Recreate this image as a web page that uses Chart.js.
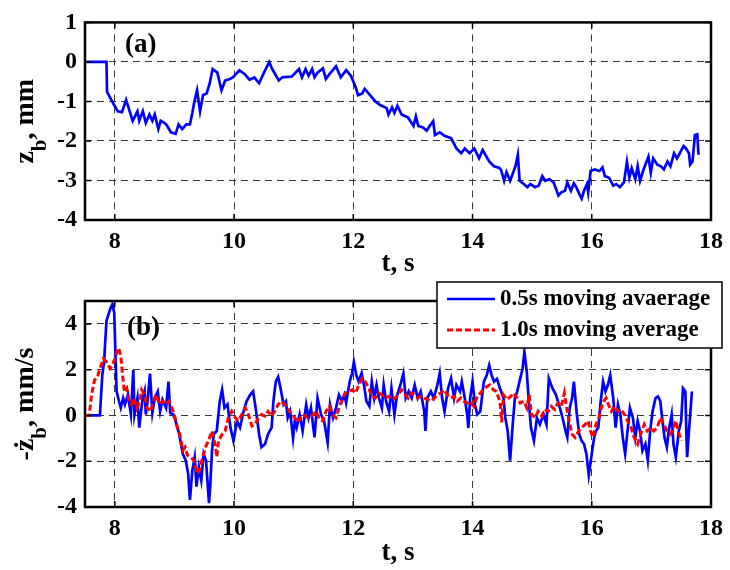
<!DOCTYPE html>
<html>
<head>
<meta charset="utf-8">
<title>z_b and -dz_b/dt</title>
<script src="https://cdn.jsdelivr.net/npm/chart.js"></script>
<style>
  body { margin: 0; background: #fff; }
  #wrap { position: relative; width: 730px; height: 570px; }
  #boxTop { position: absolute; left: 0; top: 0; width: 730px; height: 285px; }
  #boxBot { position: absolute; left: 0; top: 265px; width: 730px; height: 305px; }
</style>
</head>
<body>
<div id="wrap">
  <div id="boxTop"><canvas id="topChart" width="730" height="285"></canvas></div>
  <div id="boxBot"><canvas id="botChart" width="730" height="305"></canvas></div>
</div>
<script>
// tick labels
const xTicks = [8, 10, 12, 14, 16, 18];
const topYTicks = [-4, -3, -2, -1, 0, 1];
const botYTicks = [-4, -2, 0, 2, 4];

// (a) z_b, mm
const tTop = [7.50, 7.86, 7.87, 7.97, 8.05, 8.12, 8.19, 8.25, 8.30, 8.38, 8.41, 8.47, 8.52, 8.58, 8.63, 8.67, 8.73, 8.77, 8.83, 8.87,
  8.94, 9.02, 9.07, 9.13, 9.20, 9.26, 9.30, 9.33, 9.38, 9.43, 9.48, 9.54, 9.59, 9.64, 9.72, 9.79, 9.85, 9.93, 9.98, 10.09,
  10.18, 10.26, 10.34, 10.42, 10.49, 10.59, 10.64, 10.75, 10.81, 10.97, 11.09, 11.14, 11.20, 11.25, 11.31, 11.35, 11.40, 11.49, 11.54, 11.60,
  11.71, 11.79, 11.88, 11.96, 12.04, 12.08, 12.15, 12.19, 12.26, 12.37, 12.45, 12.56, 12.59, 12.65, 12.69, 12.74, 12.81, 12.92, 13.01, 13.05,
  13.09, 13.17, 13.23, 13.28, 13.34, 13.37, 13.45, 13.53, 13.64, 13.73, 13.81, 13.87, 13.95, 14.03, 14.11, 14.17, 14.28, 14.36, 14.45, 14.48,
  14.53, 14.57, 14.63, 14.67, 14.72, 14.76, 14.79, 14.86, 14.92, 14.97, 15.05, 15.11, 15.17, 15.22, 15.29, 15.36, 15.40, 15.44, 15.49, 15.55,
  15.59, 15.65, 15.70, 15.74, 15.79, 15.83, 15.87, 15.92, 15.94, 15.98, 16.05, 16.13, 16.18, 16.22, 16.29, 16.36, 16.41, 16.47, 16.54, 16.59,
  16.63, 16.67, 16.73, 16.77, 16.81, 16.86, 16.91, 16.95, 16.99, 17.03, 17.10, 17.16, 17.21, 17.27, 17.32, 17.38, 17.43, 17.49, 17.54, 17.58,
  17.63, 17.65, 17.69, 17.73, 17.77, 17.79];
const zTop = [0, 0, -0.76, -1.04, -1.25, -1.27, -0.96, -1.25, -1.49, -1.25, -1.49, -1.25, -1.54, -1.33, -1.49, -1.33, -1.70, -1.49, -1.54, -1.60,
  -1.78, -1.82, -1.58, -1.70, -1.58, -1.58, -1.29, -1.04, -0.72, -1.25, -0.84, -0.80, -0.55, -0.18, -0.27, -0.72, -0.47, -0.43, -0.39, -0.21,
  -0.31, -0.45, -0.39, -0.54, -0.31, 0.00, -0.18, -0.47, -0.39, -0.37, -0.18, -0.39, -0.18, -0.35, -0.18, -0.39, -0.27, -0.16, -0.43, -0.31,
  -0.11, -0.39, -0.21, -0.35, -0.64, -0.84, -0.80, -0.68, -0.80, -1.00, -1.09, -1.17, -1.33, -1.15, -1.29, -1.11, -1.33, -1.41, -1.62, -1.38,
  -1.62, -1.66, -1.74, -1.62, -1.50, -1.85, -1.78, -1.87, -1.93, -2.19, -2.31, -2.19, -2.31, -2.19, -2.44, -2.23, -2.52, -2.64, -2.68, -2.74,
  -3.01, -2.79, -3.01, -2.85, -2.64, -2.35, -3.01, -3.09, -3.17, -3.09, -3.17, -3.13, -2.89, -3.01, -2.97, -3.05, -3.21, -3.38, -3.30, -3.26,
  -3.05, -3.26, -3.07, -3.17, -3.34, -3.46, -3.26, -3.09, -3.30, -2.76, -2.72, -2.76, -2.67, -2.89, -2.93, -3.13, -3.09, -3.17, -3.05, -2.53,
  -2.93, -2.69, -2.97, -2.64, -3.01, -2.76, -2.56, -2.40, -2.80, -2.44, -2.60, -2.64, -2.72, -2.52, -2.64, -2.31, -2.44, -2.27, -2.13, -2.19,
  -2.31, -2.60, -2.52, -1.85, -1.83, -2.35];

// (b) 0.5s moving avaerage
const tFast = [7.50, 7.75, 7.79, 7.82, 7.86, 7.92, 7.96, 7.99, 8.01, 8.03, 8.07, 8.10, 8.14, 8.17, 8.22, 8.27, 8.31, 8.33, 8.38, 8.41,
  8.46, 8.50, 8.52, 8.55, 8.59, 8.63, 8.67, 8.72, 8.76, 8.80, 8.86, 8.90, 8.93, 8.98, 9.02, 9.08, 9.14, 9.19, 9.23, 9.26,
  9.30, 9.34, 9.37, 9.41, 9.45, 9.49, 9.53, 9.58, 9.60, 9.63, 9.66, 9.71, 9.76, 9.80, 9.84, 9.89, 9.94, 9.99, 10.05, 10.10,
  10.16, 10.21, 10.27, 10.32, 10.37, 10.42, 10.46, 10.52, 10.57, 10.63, 10.66, 10.70, 10.74, 10.78, 10.83, 10.87, 10.90, 10.94, 10.99, 11.02,
  11.05, 11.10, 11.15, 11.21, 11.25, 11.29, 11.35, 11.40, 11.46, 11.51, 11.57, 11.61, 11.66, 11.71, 11.76, 11.81, 11.85, 11.88, 11.94, 11.98,
  12.01, 12.05, 12.09, 12.14, 12.18, 12.22, 12.27, 12.31, 12.35, 12.39, 12.43, 12.48, 12.51, 12.55, 12.60, 12.64, 12.69, 12.73, 12.79, 12.84,
  12.88, 12.93, 12.98, 13.03, 13.08, 13.13, 13.19, 13.21, 13.24, 13.30, 13.35, 13.41, 13.45, 13.49, 13.53, 13.59, 13.64, 13.69, 13.73, 13.79,
  13.82, 13.87, 13.91, 13.93, 13.96, 14.00, 14.04, 14.08, 14.13, 14.19, 14.24, 14.28, 14.32, 14.36, 14.41, 14.46, 14.52, 14.55, 14.59, 14.63,
  14.67, 14.71, 14.75, 14.80, 14.84, 14.87, 14.91, 14.94, 14.98, 15.03, 15.08, 15.13, 15.19, 15.24, 15.28, 15.34, 15.40, 15.45, 15.51, 15.56,
  15.59, 15.63, 15.67, 15.70, 15.75, 15.79, 15.83, 15.87, 15.91, 15.95, 16.00, 16.04, 16.07, 16.11, 16.15, 16.19, 16.23, 16.27, 16.31, 16.36,
  16.40, 16.44, 16.48, 16.52, 16.56, 16.60, 16.64, 16.69, 16.73, 16.77, 16.81, 16.85, 16.90, 16.94, 16.98, 17.02, 17.07, 17.11, 17.15, 17.18,
  17.22, 17.26, 17.29, 17.34, 17.37, 17.41, 17.46, 17.50, 17.53, 17.57, 17.59, 17.60, 17.63, 17.66, 17.68];
const vFast = [0, 0, 1.76, 2.34, 4.13, 4.63, 4.87, 4.49, 2.77, 1.05, 0.62, 0.33, 0.76, 0.48, 0.90, 0.04, 1.98, 0.04, 0.76, -0.53,
  0.62, 1.05, 0.04, 0.62, 1.83, 0.11, 0.76, 1.05, 0.18, 0.69, 0.33, 1.48, 0.11, 0.04, -0.25, -0.82, -1.68, -1.97, -2.54, -3.69,
  -2.40, -1.82, -3.11, -2.25, -2.83, -1.68, -1.97, -3.83, -3.11, -1.54, -0.82, -0.68, 0.62, 1.12, 0.33, 0.48, -0.53, -1.11, -0.24, -0.53,
  0.18, 0.62, 0.90, 1.05, 0.18, -0.82, -1.39, -1.25, -0.82, -0.53, 0.62, 1.48, 1.69, 1.19, 0.48, 0.62, -0.10, 0.18, -1.00, -0.24,
  -0.53, 0.04, -0.68, 0.47, -0.10, 0.33, -0.96, 0.76, 0.04, -0.24, -1.18, 0.47, -0.10, 0.33, 0.90, 0.62, 0.90, 0.54, 1.48, 1.84,
  2.34, 1.76, 1.48, 1.84, 1.33, 0.62, 0.40, 1.48, 0.76, 1.33, 0.76, 0.33, 1.33, 0.62, 0.18, 1.19, 0.04, 0.83, 1.33, 1.84,
  0.76, 1.05, 0.76, 1.33, 0.76, 1.05, 0.18, -0.68, 0.76, 1.05, 0.76, 1.33, 1.84, 0.76, 0.18, 1.19, 1.62, 0.76, 1.33, 1.05,
  1.48, 0.76, 0.04, -0.55, 0.76, 1.48, 0.47, 0.04, 0.18, 1.48, 1.76, 2.19, 1.76, 1.48, 1.60, 1.19, 0.76, -0.10, -0.68, -1.97,
  -0.53, 0.76, 1.05, 1.62, 2.05, 2.77, 1.91, 0.76, -0.53, -1.11, -0.10, -0.39, 0.04, -0.39, 1.62, 1.19, 0.90, 0.47, -0.10, -0.68,
  -0.96, 0.33, 0.76, 1.48, 0.04, -0.82, -1.11, -1.25, -1.68, -2.60, -1.68, -0.96, -0.68, -0.53, 0.62, 1.48, 1.05, 1.33, 1.76, 0.76,
  -0.53, 0.47, 0.04, -0.96, -1.68, -0.68, 0.33, -0.10, -0.96, -0.24, -0.68, -1.54, -1.25, -1.97, -0.68, 0.18, 0.76, 0.83, 0.62, -0.10,
  -0.96, -1.39, -0.68, 0.04, -1.25, -1.82, -0.68, -0.24, 1.19, 1.05, -1.11, -1.82, -0.68, 0.33, 1.05];

// (b) 1.0s moving average
const tSlow = [7.50, 7.57, 7.61, 7.66, 7.71, 7.75, 7.81, 7.86, 7.92, 7.96, 8.00, 8.06, 8.10, 8.13, 8.16, 8.20, 8.24, 8.28, 8.32, 8.37,
  8.42, 8.45, 8.50, 8.54, 8.60, 8.65, 8.69, 8.75, 8.80, 8.86, 8.91, 8.97, 9.01, 9.05, 9.09, 9.14, 9.18, 9.22, 9.27, 9.33,
  9.38, 9.42, 9.46, 9.52, 9.57, 9.63, 9.69, 9.71, 9.74, 9.80, 9.85, 9.91, 9.96, 10.02, 10.07, 10.13, 10.19, 10.24, 10.30, 10.35,
  10.41, 10.46, 10.52, 10.57, 10.63, 10.68, 10.74, 10.79, 10.85, 10.90, 10.96, 11.02, 11.07, 11.15, 11.24, 11.32, 11.38, 11.43, 11.49, 11.54,
  11.60, 11.65, 11.71, 11.76, 11.82, 11.87, 11.93, 11.98, 12.04, 12.09, 12.15, 12.20, 12.26, 12.31, 12.37, 12.43, 12.48, 12.53, 12.59, 12.64,
  12.70, 12.75, 12.81, 12.86, 12.92, 12.97, 13.03, 13.08, 13.14, 13.19, 13.25, 13.30, 13.36, 13.41, 13.47, 13.52, 13.58, 13.63, 13.69, 13.74,
  13.80, 13.85, 13.91, 13.96, 14.02, 14.07, 14.13, 14.18, 14.24, 14.29, 14.35, 14.40, 14.46, 14.49, 14.52, 14.58, 14.64, 14.69, 14.75, 14.80,
  14.86, 14.91, 14.95, 14.99, 15.05, 15.10, 15.16, 15.21, 15.27, 15.32, 15.38, 15.43, 15.49, 15.54, 15.58, 15.62, 15.67, 15.72, 15.78, 15.83,
  15.89, 15.94, 15.98, 16.02, 16.07, 16.12, 16.16, 16.20, 16.24, 16.28, 16.33, 16.38, 16.44, 16.49, 16.55, 16.60, 16.66, 16.71, 16.77, 16.82,
  16.88, 16.93, 16.99, 17.04, 17.10, 17.15, 17.21, 17.26, 17.32, 17.37, 17.41, 17.45, 17.50];
const vSlow = [0, 0, 0.90, 1.55, 1.69, 2.05, 2.48, 2.34, 2.05, 2.19, 2.48, 2.95, 2.62, 1.76, 1.05, 1.19, 0.62, 0.48, 0.76, 0.33,
  0.62, 1.12, 0.90, 0.33, 0.18, 0.62, 0.90, 0.48, 0.62, 0.48, 0.62, 0.26, -0.10, -0.53, -0.82, -1.54, -1.39, -1.75, -1.82, -1.97,
  -2.54, -2.40, -1.97, -1.39, -1.11, -0.68, -1.39, -1.82, -1.11, -0.82, -0.68, -0.03, 0.18, -0.10, -0.24, 0.04, 0.33, 0.04, -0.46, -0.39,
  -0.10, 0.04, -0.03, 0.18, -0.03, 0.18, 0.48, 0.62, 0.48, 0.33, 0.04, -0.10, -0.31, 0.04, -0.10, 0.04, 0.18, -0.17, -0.24, 0.18,
  0.40, 0.04, -0.10, 0.33, 0.76, 0.98, 1.05, 1.12, 0.98, 1.33, 1.62, 1.48, 1.19, 0.83, 0.76, 0.98, 0.90, 0.76, 0.83, 0.69,
  0.76, 0.90, 1.12, 0.98, 0.76, 0.98, 0.90, 0.76, 0.83, 0.76, 0.69, 0.62, 0.76, 0.90, 0.98, 1.12, 0.90, 0.76, 0.83, 0.62,
  0.76, 0.62, 0.54, 0.62, 0.40, 0.76, 0.98, 1.12, 1.26, 1.33, 1.12, 1.05, 0.60, -0.30, 0.90, 0.69, 0.83, 0.98, 0.76, 0.54,
  0.62, 0.33, 0.90, 0.04, -0.10, 0.18, -0.03, 0.26, 0.18, 0.40, 0.26, 0.54, 0.40, 0.98, 0.33, -0.24, -0.82, -0.96, -0.68, -0.53,
  -0.39, -0.24, -0.68, -0.96, -0.39, -0.10, 0.33, 0.62, 0.76, 0.47, 0.18, 0.40, 0.18, 0.26, 0.04, -0.24, -0.53, -0.96, -1.25, -0.82,
  -0.39, -0.68, -0.53, -0.68, -0.53, -0.10, -0.39, -0.68, -0.82, -0.53, -0.24, -0.68, -1.11];

const serif = "'Liberation Serif', 'Times New Roman', serif";

function pts(xs, ys) {
  return xs.map((x, i) => ({ x: x, y: ys[i] }));
}

// frame, inner ticks, panel tag, y title and legend
const boxPlugin = {
  id: 'box',
  afterDraw(chart, args, o) {
    const ctx = chart.ctx;
    const a = chart.chartArea;
    const sx = chart.scales.x, sy = chart.scales.y;
    ctx.save();
    ctx.strokeStyle = '#000';
    ctx.lineWidth = 1.5;
    ctx.beginPath();
    xTicks.forEach(v => {
      const x = sx.getPixelForValue(v);
      ctx.moveTo(x, a.bottom); ctx.lineTo(x, a.bottom - 6);
      ctx.moveTo(x, a.top); ctx.lineTo(x, a.top + 6);
    });
    o.yTicks.forEach(v => {
      const y = sy.getPixelForValue(v);
      ctx.moveTo(a.left, y); ctx.lineTo(a.left + 6, y);
      ctx.moveTo(a.right, y); ctx.lineTo(a.right - 6, y);
    });
    ctx.stroke();
    ctx.lineWidth = 2.5;
    ctx.strokeRect(a.left, a.top, a.right - a.left, a.bottom - a.top);

    ctx.fillStyle = '#000';
    ctx.font = 'bold 27px ' + serif;
    ctx.textBaseline = 'middle';
    ctx.textAlign = 'left';
    ctx.fillText(o.tag, a.left + o.tagX, a.top + o.tagY);

    // rotated y title with subscript
    ctx.save();
    ctx.translate(33, (a.top + a.bottom) / 2);
    ctx.rotate(-Math.PI / 2);
    ctx.textBaseline = 'alphabetic';
    let total = 0;
    o.yTitle.forEach(p => {
      ctx.font = 'bold ' + (p.sub ? 21 : 28) + 'px ' + serif;
      total += ctx.measureText(p.t).width;
    });
    let cx = -total / 2;
    o.yTitle.forEach(p => {
      ctx.font = 'bold ' + (p.sub ? 21 : 28) + 'px ' + serif;
      ctx.fillText(p.t, cx, p.sub ? 13 : 0);
      cx += ctx.measureText(p.t).width;
    });
    ctx.restore();

    if (o.legend) {
      const L = o.legend;
      ctx.fillStyle = '#fff';
      ctx.fillRect(L.x, L.y, L.w, L.h);
      ctx.lineWidth = 1.5;
      ctx.strokeStyle = '#000';
      ctx.strokeRect(L.x, L.y, L.w, L.h);
      ctx.font = 'bold 23px ' + serif;
      ctx.textBaseline = 'middle';
      chart.data.datasets.forEach((ds, i) => {
        const y = L.y + L.row0 + i * L.rowGap;
        ctx.beginPath();
        ctx.strokeStyle = ds.borderColor;
        ctx.lineWidth = ds.borderWidth;
        ctx.setLineDash(ds.borderDash || []);
        ctx.moveTo(L.x + 10, y);
        ctx.lineTo(L.x + 58, y);
        ctx.stroke();
        ctx.setLineDash([]);
        ctx.fillStyle = '#000';
        ctx.fillText(ds.label, L.x + 63, y);
      });
    }
    ctx.restore();
  }
};

function makeOptions(cfg) {
  return {
    responsive: false,
    animation: false,
    layout: { padding: { left: 0, right: 13, top: cfg.padTop, bottom: 0 } },
    plugins: {
      legend: { display: false },
      tooltip: { enabled: false },
      box: cfg.box
    },
    scales: {
      x: {
        type: 'linear',
        min: 7.5,
        max: 18,
        afterBuildTicks: s => { s.ticks = xTicks.map(v => ({ value: v })); },
        afterFit: s => { s.height = cfg.xHeight; },
        grid: { color: '#3a3a3a', lineWidth: 1, drawTicks: false },
        border: { display: false, dash: [7, 5] },
        ticks: {
          color: '#000',
          padding: 7,
          maxRotation: 0,
          font: { family: serif, size: 24, weight: 'bold' }
        },
        title: {
          display: true,
          text: 't, s',
          color: '#000',
          padding: { top: 0, bottom: cfg.titlePad },
          font: { family: serif, size: 27, weight: 'bold', lineHeight: 1 }
        }
      },
      y: {
        min: cfg.ymin,
        max: cfg.ymax,
        afterBuildTicks: s => { s.ticks = cfg.box.yTicks.map(v => ({ value: v })); },
        afterFit: s => { s.width = 85; },
        grid: { color: '#3a3a3a', lineWidth: 1, drawTicks: false },
        border: { display: false, dash: [7, 5] },
        ticks: {
          color: '#000',
          padding: 8,
          font: { family: serif, size: 24, weight: 'bold' }
        }
      }
    }
  };
}

new Chart(document.getElementById('topChart'), {
  type: 'line',
  data: {
    datasets: [{
      label: 'z_b',
      data: pts(tTop, zTop),
      borderColor: '#0000ff',
      borderWidth: 2.7,
      pointRadius: 0,
      tension: 0
    }]
  },
  options: makeOptions({
    ymin: -4, ymax: 1, padTop: 18, xHeight: 65, titlePad: 7,
    box: {
      yTicks: topYTicks, tag: '(a)', tagX: 40, tagY: 23,
      yTitle: [{ t: 'z' }, { t: 'b', sub: true }, { t: ', mm' }]
    }
  }),
  plugins: [boxPlugin]
});

new Chart(document.getElementById('botChart'), {
  type: 'line',
  data: {
    datasets: [{
      label: '0.5s moving avaerage',
      data: pts(tFast, vFast),
      borderColor: '#0000ff',
      borderWidth: 2.7,
      pointRadius: 0,
      tension: 0,
      order: 1
    }, {
      label: '1.0s moving average',
      data: pts(tSlow, vSlow),
      borderColor: '#ff0000',
      borderWidth: 3,
      borderDash: [6, 3],
      pointRadius: 0,
      tension: 0,
      order: 0
    }]
  },
  options: makeOptions({
    ymin: -4, ymax: 5, padTop: 36, xHeight: 63, titlePad: 3,
    box: {
      yTicks: botYTicks, tag: '(b)', tagX: 42, tagY: 27,
      yTitle: [{ t: '-\u017c' }, { t: 'b', sub: true }, { t: ', mm/s' }],
      legend: { x: 437, y: 17, w: 285, h: 66, row0: 17, rowGap: 31 }
    }
  }),
  plugins: [boxPlugin]
});
</script>
</body>
</html>
